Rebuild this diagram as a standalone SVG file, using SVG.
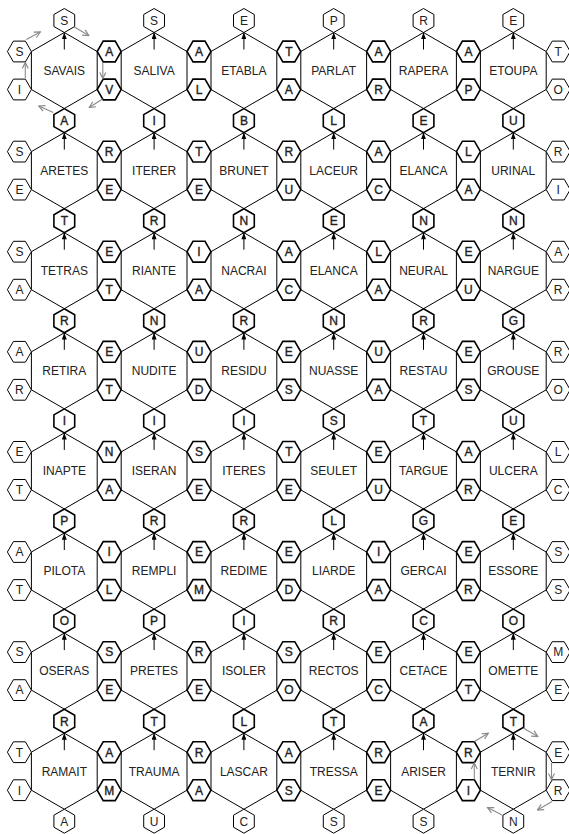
<svg xmlns="http://www.w3.org/2000/svg" xmlns:xlink="http://www.w3.org/1999/xlink" width="569" height="834" viewBox="0 0 569 834">
<style>
.bh{fill:none;stroke:#000;stroke-width:1}
.so{fill:#fff;stroke:#000;stroke-width:1}
.si{fill:#fff;stroke:#000;stroke-width:1.6}
text{font-family:"Liberation Sans",Arial,sans-serif;font-size:12px;fill:#222;text-anchor:middle}
.ti{stroke:#222;stroke-width:0.35}
.ar{stroke:#000;stroke-width:1;fill:none;marker-end:url(#ah)}
.ga{stroke:#8a8a8a;stroke-width:1.1;fill:none;marker-end:url(#gh)}
</style>
<defs>
<polygon id="B" class="bh" points="0,-38 32.9,-19 32.9,19 0,38 -32.9,19 -32.9,-19"/>
<polygon id="V" points="0,-12 10.39,-6 10.39,6 0,12 -10.39,6 -10.39,-6"/>
<polygon id="H" points="-12,0 -6,-10.39 6,-10.39 12,0 6,10.39 -6,10.39"/>
<marker id="ah" viewBox="0 0 8 6" refX="8" refY="3" markerWidth="7" markerHeight="5" markerUnits="userSpaceOnUse" orient="auto"><path d="M0,0 L8,3 L0,6 z" fill="#000"/></marker>
<marker id="gh" viewBox="0 0 8 8" refX="7" refY="4" markerWidth="8" markerHeight="8" markerUnits="userSpaceOnUse" orient="auto"><path d="M1,1 L7,4 L1,7" fill="none" stroke="#8a8a8a" stroke-width="1.2"/></marker>
</defs>

<g id="big">
<g id="h-r0c0"><use href="#B" x="64.3" y="70.5"/><text x="64.3" y="74.8">SAVAIS</text></g>
<g id="h-r0c1"><use href="#B" x="154.1" y="70.5"/><text x="154.1" y="74.8">SALIVA</text></g>
<g id="h-r0c2"><use href="#B" x="243.9" y="70.5"/><text x="243.9" y="74.8">ETABLA</text></g>
<g id="h-r0c3"><use href="#B" x="333.7" y="70.5"/><text x="333.7" y="74.8">PARLAT</text></g>
<g id="h-r0c4"><use href="#B" x="423.5" y="70.5"/><text x="423.5" y="74.8">RAPERA</text></g>
<g id="h-r0c5"><use href="#B" x="513.3" y="70.5"/><text x="513.3" y="74.8">ETOUPA</text></g>

<g id="h-r1c0"><use href="#B" x="64.3" y="170.6"/><text x="64.3" y="174.9">ARETES</text></g>
<g id="h-r1c1"><use href="#B" x="154.1" y="170.6"/><text x="154.1" y="174.9">ITERER</text></g>
<g id="h-r1c2"><use href="#B" x="243.9" y="170.6"/><text x="243.9" y="174.9">BRUNET</text></g>
<g id="h-r1c3"><use href="#B" x="333.7" y="170.6"/><text x="333.7" y="174.9">LACEUR</text></g>
<g id="h-r1c4"><use href="#B" x="423.5" y="170.6"/><text x="423.5" y="174.9">ELANCA</text></g>
<g id="h-r1c5"><use href="#B" x="513.3" y="170.6"/><text x="513.3" y="174.9">URINAL</text></g>

<g id="h-r2c0"><use href="#B" x="64.3" y="270.7"/><text x="64.3" y="275">TETRAS</text></g>
<g id="h-r2c1"><use href="#B" x="154.1" y="270.7"/><text x="154.1" y="275">RIANTE</text></g>
<g id="h-r2c2"><use href="#B" x="243.9" y="270.7"/><text x="243.9" y="275">NACRAI</text></g>
<g id="h-r2c3"><use href="#B" x="333.7" y="270.7"/><text x="333.7" y="275">ELANCA</text></g>
<g id="h-r2c4"><use href="#B" x="423.5" y="270.7"/><text x="423.5" y="275">NEURAL</text></g>
<g id="h-r2c5"><use href="#B" x="513.3" y="270.7"/><text x="513.3" y="275">NARGUE</text></g>

<g id="h-r3c0"><use href="#B" x="64.3" y="370.8"/><text x="64.3" y="375.1">RETIRA</text></g>
<g id="h-r3c1"><use href="#B" x="154.1" y="370.8"/><text x="154.1" y="375.1">NUDITE</text></g>
<g id="h-r3c2"><use href="#B" x="243.9" y="370.8"/><text x="243.9" y="375.1">RESIDU</text></g>
<g id="h-r3c3"><use href="#B" x="333.7" y="370.8"/><text x="333.7" y="375.1">NUASSE</text></g>
<g id="h-r3c4"><use href="#B" x="423.5" y="370.8"/><text x="423.5" y="375.1">RESTAU</text></g>
<g id="h-r3c5"><use href="#B" x="513.3" y="370.8"/><text x="513.3" y="375.1">GROUSE</text></g>

<g id="h-r4c0"><use href="#B" x="64.3" y="470.9"/><text x="64.3" y="475.2">INAPTE</text></g>
<g id="h-r4c1"><use href="#B" x="154.1" y="470.9"/><text x="154.1" y="475.2">ISERAN</text></g>
<g id="h-r4c2"><use href="#B" x="243.9" y="470.9"/><text x="243.9" y="475.2">ITERES</text></g>
<g id="h-r4c3"><use href="#B" x="333.7" y="470.9"/><text x="333.7" y="475.2">SEULET</text></g>
<g id="h-r4c4"><use href="#B" x="423.5" y="470.9"/><text x="423.5" y="475.2">TARGUE</text></g>
<g id="h-r4c5"><use href="#B" x="513.3" y="470.9"/><text x="513.3" y="475.2">ULCERA</text></g>

<g id="h-r5c0"><use href="#B" x="64.3" y="571"/><text x="64.3" y="575.3">PILOTA</text></g>
<g id="h-r5c1"><use href="#B" x="154.1" y="571"/><text x="154.1" y="575.3">REMPLI</text></g>
<g id="h-r5c2"><use href="#B" x="243.9" y="571"/><text x="243.9" y="575.3">REDIME</text></g>
<g id="h-r5c3"><use href="#B" x="333.7" y="571"/><text x="333.7" y="575.3">LIARDE</text></g>
<g id="h-r5c4"><use href="#B" x="423.5" y="571"/><text x="423.5" y="575.3">GERCAI</text></g>
<g id="h-r5c5"><use href="#B" x="513.3" y="571"/><text x="513.3" y="575.3">ESSORE</text></g>

<g id="h-r6c0"><use href="#B" x="64.3" y="671.1"/><text x="64.3" y="675.4">OSERAS</text></g>
<g id="h-r6c1"><use href="#B" x="154.1" y="671.1"/><text x="154.1" y="675.4">PRETES</text></g>
<g id="h-r6c2"><use href="#B" x="243.9" y="671.1"/><text x="243.9" y="675.4">ISOLER</text></g>
<g id="h-r6c3"><use href="#B" x="333.7" y="671.1"/><text x="333.7" y="675.4">RECTOS</text></g>
<g id="h-r6c4"><use href="#B" x="423.5" y="671.1"/><text x="423.5" y="675.4">CETACE</text></g>
<g id="h-r6c5"><use href="#B" x="513.3" y="671.1"/><text x="513.3" y="675.4">OMETTE</text></g>

<g id="h-r7c0"><use href="#B" x="64.3" y="771.2"/><text x="64.3" y="775.5">RAMAIT</text></g>
<g id="h-r7c1"><use href="#B" x="154.1" y="771.2"/><text x="154.1" y="775.5">TRAUMA</text></g>
<g id="h-r7c2"><use href="#B" x="243.9" y="771.2"/><text x="243.9" y="775.5">LASCAR</text></g>
<g id="h-r7c3"><use href="#B" x="333.7" y="771.2"/><text x="333.7" y="775.5">TRESSA</text></g>
<g id="h-r7c4"><use href="#B" x="423.5" y="771.2"/><text x="423.5" y="775.5">ARISER</text></g>
<g id="h-r7c5"><use href="#B" x="513.3" y="771.2"/><text x="513.3" y="775.5">TERNIR</text></g>
</g>

<g id="vertical-letters">
<g id="v0c0"><use href="#V" class="so" x="64.3" y="20.5"/><text x="64.3" y="24.8">S</text></g>
<g id="v0c1"><use href="#V" class="so" x="154.1" y="20.5"/><text x="154.1" y="24.8">S</text></g>
<g id="v0c2"><use href="#V" class="so" x="243.9" y="20.5"/><text x="243.9" y="24.8">E</text></g>
<g id="v0c3"><use href="#V" class="so" x="333.7" y="20.5"/><text x="333.7" y="24.8">P</text></g>
<g id="v0c4"><use href="#V" class="so" x="423.5" y="20.5"/><text x="423.5" y="24.8">R</text></g>
<g id="v0c5"><use href="#V" class="so" x="513.3" y="20.5"/><text x="513.3" y="24.8">E</text></g>

<g id="v1c0"><use href="#V" class="si" x="64.3" y="120.6"/><text class="ti" x="64.3" y="124.9">A</text></g>
<g id="v1c1"><use href="#V" class="si" x="154.1" y="120.6"/><text class="ti" x="154.1" y="124.9">I</text></g>
<g id="v1c2"><use href="#V" class="si" x="243.9" y="120.6"/><text class="ti" x="243.9" y="124.9">B</text></g>
<g id="v1c3"><use href="#V" class="si" x="333.7" y="120.6"/><text class="ti" x="333.7" y="124.9">L</text></g>
<g id="v1c4"><use href="#V" class="si" x="423.5" y="120.6"/><text class="ti" x="423.5" y="124.9">E</text></g>
<g id="v1c5"><use href="#V" class="si" x="513.3" y="120.6"/><text class="ti" x="513.3" y="124.9">U</text></g>

<g id="v2c0"><use href="#V" class="si" x="64.3" y="220.7"/><text class="ti" x="64.3" y="225">T</text></g>
<g id="v2c1"><use href="#V" class="si" x="154.1" y="220.7"/><text class="ti" x="154.1" y="225">R</text></g>
<g id="v2c2"><use href="#V" class="si" x="243.9" y="220.7"/><text class="ti" x="243.9" y="225">N</text></g>
<g id="v2c3"><use href="#V" class="si" x="333.7" y="220.7"/><text class="ti" x="333.7" y="225">E</text></g>
<g id="v2c4"><use href="#V" class="si" x="423.5" y="220.7"/><text class="ti" x="423.5" y="225">N</text></g>
<g id="v2c5"><use href="#V" class="si" x="513.3" y="220.7"/><text class="ti" x="513.3" y="225">N</text></g>

<g id="v3c0"><use href="#V" class="si" x="64.3" y="320.8"/><text class="ti" x="64.3" y="325.1">R</text></g>
<g id="v3c1"><use href="#V" class="si" x="154.1" y="320.8"/><text class="ti" x="154.1" y="325.1">N</text></g>
<g id="v3c2"><use href="#V" class="si" x="243.9" y="320.8"/><text class="ti" x="243.9" y="325.1">R</text></g>
<g id="v3c3"><use href="#V" class="si" x="333.7" y="320.8"/><text class="ti" x="333.7" y="325.1">N</text></g>
<g id="v3c4"><use href="#V" class="si" x="423.5" y="320.8"/><text class="ti" x="423.5" y="325.1">R</text></g>
<g id="v3c5"><use href="#V" class="si" x="513.3" y="320.8"/><text class="ti" x="513.3" y="325.1">G</text></g>

<g id="v4c0"><use href="#V" class="si" x="64.3" y="420.9"/><text class="ti" x="64.3" y="425.2">I</text></g>
<g id="v4c1"><use href="#V" class="si" x="154.1" y="420.9"/><text class="ti" x="154.1" y="425.2">I</text></g>
<g id="v4c2"><use href="#V" class="si" x="243.9" y="420.9"/><text class="ti" x="243.9" y="425.2">I</text></g>
<g id="v4c3"><use href="#V" class="si" x="333.7" y="420.9"/><text class="ti" x="333.7" y="425.2">S</text></g>
<g id="v4c4"><use href="#V" class="si" x="423.5" y="420.9"/><text class="ti" x="423.5" y="425.2">T</text></g>
<g id="v4c5"><use href="#V" class="si" x="513.3" y="420.9"/><text class="ti" x="513.3" y="425.2">U</text></g>

<g id="v5c0"><use href="#V" class="si" x="64.3" y="521"/><text class="ti" x="64.3" y="525.3">P</text></g>
<g id="v5c1"><use href="#V" class="si" x="154.1" y="521"/><text class="ti" x="154.1" y="525.3">R</text></g>
<g id="v5c2"><use href="#V" class="si" x="243.9" y="521"/><text class="ti" x="243.9" y="525.3">R</text></g>
<g id="v5c3"><use href="#V" class="si" x="333.7" y="521"/><text class="ti" x="333.7" y="525.3">L</text></g>
<g id="v5c4"><use href="#V" class="si" x="423.5" y="521"/><text class="ti" x="423.5" y="525.3">G</text></g>
<g id="v5c5"><use href="#V" class="si" x="513.3" y="521"/><text class="ti" x="513.3" y="525.3">E</text></g>

<g id="v6c0"><use href="#V" class="si" x="64.3" y="621.1"/><text class="ti" x="64.3" y="625.4">O</text></g>
<g id="v6c1"><use href="#V" class="si" x="154.1" y="621.1"/><text class="ti" x="154.1" y="625.4">P</text></g>
<g id="v6c2"><use href="#V" class="si" x="243.9" y="621.1"/><text class="ti" x="243.9" y="625.4">I</text></g>
<g id="v6c3"><use href="#V" class="si" x="333.7" y="621.1"/><text class="ti" x="333.7" y="625.4">R</text></g>
<g id="v6c4"><use href="#V" class="si" x="423.5" y="621.1"/><text class="ti" x="423.5" y="625.4">C</text></g>
<g id="v6c5"><use href="#V" class="si" x="513.3" y="621.1"/><text class="ti" x="513.3" y="625.4">O</text></g>

<g id="v7c0"><use href="#V" class="si" x="64.3" y="721.2"/><text class="ti" x="64.3" y="725.5">R</text></g>
<g id="v7c1"><use href="#V" class="si" x="154.1" y="721.2"/><text class="ti" x="154.1" y="725.5">T</text></g>
<g id="v7c2"><use href="#V" class="si" x="243.9" y="721.2"/><text class="ti" x="243.9" y="725.5">L</text></g>
<g id="v7c3"><use href="#V" class="si" x="333.7" y="721.2"/><text class="ti" x="333.7" y="725.5">T</text></g>
<g id="v7c4"><use href="#V" class="si" x="423.5" y="721.2"/><text class="ti" x="423.5" y="725.5">A</text></g>
<g id="v7c5"><use href="#V" class="si" x="513.3" y="721.2"/><text class="ti" x="513.3" y="725.5">T</text></g>

<g id="v8c0"><use href="#V" class="so" x="64.3" y="821.2"/><text x="64.3" y="825.5">A</text></g>
<g id="v8c1"><use href="#V" class="so" x="154.1" y="821.2"/><text x="154.1" y="825.5">U</text></g>
<g id="v8c2"><use href="#V" class="so" x="243.9" y="821.2"/><text x="243.9" y="825.5">C</text></g>
<g id="v8c3"><use href="#V" class="so" x="333.7" y="821.2"/><text x="333.7" y="825.5">S</text></g>
<g id="v8c4"><use href="#V" class="so" x="423.5" y="821.2"/><text x="423.5" y="825.5">S</text></g>
<g id="v8c5"><use href="#V" class="so" x="513.3" y="821.2"/><text x="513.3" y="825.5">N</text></g>
</g>

<g id="side-letters">
<g id="s0b0u"><use href="#H" class="so" x="19.4" y="51.5"/><text x="19.4" y="55.8">S</text></g>
<g id="s0b0l"><use href="#H" class="so" x="19.4" y="89.5"/><text x="19.4" y="93.8">I</text></g>
<g id="s0b1u"><use href="#H" class="si" x="109.2" y="51.5"/><text class="ti" x="109.2" y="55.8">A</text></g>
<g id="s0b1l"><use href="#H" class="si" x="109.2" y="89.5"/><text class="ti" x="109.2" y="93.8">V</text></g>
<g id="s0b2u"><use href="#H" class="si" x="199" y="51.5"/><text class="ti" x="199" y="55.8">A</text></g>
<g id="s0b2l"><use href="#H" class="si" x="199" y="89.5"/><text class="ti" x="199" y="93.8">L</text></g>
<g id="s0b3u"><use href="#H" class="si" x="288.8" y="51.5"/><text class="ti" x="288.8" y="55.8">T</text></g>
<g id="s0b3l"><use href="#H" class="si" x="288.8" y="89.5"/><text class="ti" x="288.8" y="93.8">A</text></g>
<g id="s0b4u"><use href="#H" class="si" x="378.6" y="51.5"/><text class="ti" x="378.6" y="55.8">A</text></g>
<g id="s0b4l"><use href="#H" class="si" x="378.6" y="89.5"/><text class="ti" x="378.6" y="93.8">R</text></g>
<g id="s0b5u"><use href="#H" class="si" x="468.4" y="51.5"/><text class="ti" x="468.4" y="55.8">A</text></g>
<g id="s0b5l"><use href="#H" class="si" x="468.4" y="89.5"/><text class="ti" x="468.4" y="93.8">P</text></g>
<g id="s0b6u"><use href="#H" class="so" x="558.2" y="51.5"/><text x="558.2" y="55.8">T</text></g>
<g id="s0b6l"><use href="#H" class="so" x="558.2" y="89.5"/><text x="558.2" y="93.8">O</text></g>

<g id="s1b0u"><use href="#H" class="so" x="19.4" y="151.6"/><text x="19.4" y="155.9">S</text></g>
<g id="s1b0l"><use href="#H" class="so" x="19.4" y="189.6"/><text x="19.4" y="193.9">E</text></g>
<g id="s1b1u"><use href="#H" class="si" x="109.2" y="151.6"/><text class="ti" x="109.2" y="155.9">R</text></g>
<g id="s1b1l"><use href="#H" class="si" x="109.2" y="189.6"/><text class="ti" x="109.2" y="193.9">E</text></g>
<g id="s1b2u"><use href="#H" class="si" x="199" y="151.6"/><text class="ti" x="199" y="155.9">T</text></g>
<g id="s1b2l"><use href="#H" class="si" x="199" y="189.6"/><text class="ti" x="199" y="193.9">E</text></g>
<g id="s1b3u"><use href="#H" class="si" x="288.8" y="151.6"/><text class="ti" x="288.8" y="155.9">R</text></g>
<g id="s1b3l"><use href="#H" class="si" x="288.8" y="189.6"/><text class="ti" x="288.8" y="193.9">U</text></g>
<g id="s1b4u"><use href="#H" class="si" x="378.6" y="151.6"/><text class="ti" x="378.6" y="155.9">A</text></g>
<g id="s1b4l"><use href="#H" class="si" x="378.6" y="189.6"/><text class="ti" x="378.6" y="193.9">C</text></g>
<g id="s1b5u"><use href="#H" class="si" x="468.4" y="151.6"/><text class="ti" x="468.4" y="155.9">L</text></g>
<g id="s1b5l"><use href="#H" class="si" x="468.4" y="189.6"/><text class="ti" x="468.4" y="193.9">A</text></g>
<g id="s1b6u"><use href="#H" class="so" x="558.2" y="151.6"/><text x="558.2" y="155.9">R</text></g>
<g id="s1b6l"><use href="#H" class="so" x="558.2" y="189.6"/><text x="558.2" y="193.9">I</text></g>

<g id="s2b0u"><use href="#H" class="so" x="19.4" y="251.7"/><text x="19.4" y="256">S</text></g>
<g id="s2b0l"><use href="#H" class="so" x="19.4" y="289.7"/><text x="19.4" y="294">A</text></g>
<g id="s2b1u"><use href="#H" class="si" x="109.2" y="251.7"/><text class="ti" x="109.2" y="256">E</text></g>
<g id="s2b1l"><use href="#H" class="si" x="109.2" y="289.7"/><text class="ti" x="109.2" y="294">T</text></g>
<g id="s2b2u"><use href="#H" class="si" x="199" y="251.7"/><text class="ti" x="199" y="256">I</text></g>
<g id="s2b2l"><use href="#H" class="si" x="199" y="289.7"/><text class="ti" x="199" y="294">A</text></g>
<g id="s2b3u"><use href="#H" class="si" x="288.8" y="251.7"/><text class="ti" x="288.8" y="256">A</text></g>
<g id="s2b3l"><use href="#H" class="si" x="288.8" y="289.7"/><text class="ti" x="288.8" y="294">C</text></g>
<g id="s2b4u"><use href="#H" class="si" x="378.6" y="251.7"/><text class="ti" x="378.6" y="256">L</text></g>
<g id="s2b4l"><use href="#H" class="si" x="378.6" y="289.7"/><text class="ti" x="378.6" y="294">A</text></g>
<g id="s2b5u"><use href="#H" class="si" x="468.4" y="251.7"/><text class="ti" x="468.4" y="256">E</text></g>
<g id="s2b5l"><use href="#H" class="si" x="468.4" y="289.7"/><text class="ti" x="468.4" y="294">U</text></g>
<g id="s2b6u"><use href="#H" class="so" x="558.2" y="251.7"/><text x="558.2" y="256">A</text></g>
<g id="s2b6l"><use href="#H" class="so" x="558.2" y="289.7"/><text x="558.2" y="294">R</text></g>

<g id="s3b0u"><use href="#H" class="so" x="19.4" y="351.8"/><text x="19.4" y="356.1">A</text></g>
<g id="s3b0l"><use href="#H" class="so" x="19.4" y="389.8"/><text x="19.4" y="394.1">R</text></g>
<g id="s3b1u"><use href="#H" class="si" x="109.2" y="351.8"/><text class="ti" x="109.2" y="356.1">E</text></g>
<g id="s3b1l"><use href="#H" class="si" x="109.2" y="389.8"/><text class="ti" x="109.2" y="394.1">T</text></g>
<g id="s3b2u"><use href="#H" class="si" x="199" y="351.8"/><text class="ti" x="199" y="356.1">U</text></g>
<g id="s3b2l"><use href="#H" class="si" x="199" y="389.8"/><text class="ti" x="199" y="394.1">D</text></g>
<g id="s3b3u"><use href="#H" class="si" x="288.8" y="351.8"/><text class="ti" x="288.8" y="356.1">E</text></g>
<g id="s3b3l"><use href="#H" class="si" x="288.8" y="389.8"/><text class="ti" x="288.8" y="394.1">S</text></g>
<g id="s3b4u"><use href="#H" class="si" x="378.6" y="351.8"/><text class="ti" x="378.6" y="356.1">U</text></g>
<g id="s3b4l"><use href="#H" class="si" x="378.6" y="389.8"/><text class="ti" x="378.6" y="394.1">A</text></g>
<g id="s3b5u"><use href="#H" class="si" x="468.4" y="351.8"/><text class="ti" x="468.4" y="356.1">E</text></g>
<g id="s3b5l"><use href="#H" class="si" x="468.4" y="389.8"/><text class="ti" x="468.4" y="394.1">S</text></g>
<g id="s3b6u"><use href="#H" class="so" x="558.2" y="351.8"/><text x="558.2" y="356.1">R</text></g>
<g id="s3b6l"><use href="#H" class="so" x="558.2" y="389.8"/><text x="558.2" y="394.1">O</text></g>

<g id="s4b0u"><use href="#H" class="so" x="19.4" y="451.9"/><text x="19.4" y="456.2">E</text></g>
<g id="s4b0l"><use href="#H" class="so" x="19.4" y="489.9"/><text x="19.4" y="494.2">T</text></g>
<g id="s4b1u"><use href="#H" class="si" x="109.2" y="451.9"/><text class="ti" x="109.2" y="456.2">N</text></g>
<g id="s4b1l"><use href="#H" class="si" x="109.2" y="489.9"/><text class="ti" x="109.2" y="494.2">A</text></g>
<g id="s4b2u"><use href="#H" class="si" x="199" y="451.9"/><text class="ti" x="199" y="456.2">S</text></g>
<g id="s4b2l"><use href="#H" class="si" x="199" y="489.9"/><text class="ti" x="199" y="494.2">E</text></g>
<g id="s4b3u"><use href="#H" class="si" x="288.8" y="451.9"/><text class="ti" x="288.8" y="456.2">T</text></g>
<g id="s4b3l"><use href="#H" class="si" x="288.8" y="489.9"/><text class="ti" x="288.8" y="494.2">E</text></g>
<g id="s4b4u"><use href="#H" class="si" x="378.6" y="451.9"/><text class="ti" x="378.6" y="456.2">E</text></g>
<g id="s4b4l"><use href="#H" class="si" x="378.6" y="489.9"/><text class="ti" x="378.6" y="494.2">U</text></g>
<g id="s4b5u"><use href="#H" class="si" x="468.4" y="451.9"/><text class="ti" x="468.4" y="456.2">A</text></g>
<g id="s4b5l"><use href="#H" class="si" x="468.4" y="489.9"/><text class="ti" x="468.4" y="494.2">R</text></g>
<g id="s4b6u"><use href="#H" class="so" x="558.2" y="451.9"/><text x="558.2" y="456.2">L</text></g>
<g id="s4b6l"><use href="#H" class="so" x="558.2" y="489.9"/><text x="558.2" y="494.2">C</text></g>

<g id="s5b0u"><use href="#H" class="so" x="19.4" y="552"/><text x="19.4" y="556.3">A</text></g>
<g id="s5b0l"><use href="#H" class="so" x="19.4" y="590"/><text x="19.4" y="594.3">T</text></g>
<g id="s5b1u"><use href="#H" class="si" x="109.2" y="552"/><text class="ti" x="109.2" y="556.3">I</text></g>
<g id="s5b1l"><use href="#H" class="si" x="109.2" y="590"/><text class="ti" x="109.2" y="594.3">L</text></g>
<g id="s5b2u"><use href="#H" class="si" x="199" y="552"/><text class="ti" x="199" y="556.3">E</text></g>
<g id="s5b2l"><use href="#H" class="si" x="199" y="590"/><text class="ti" x="199" y="594.3">M</text></g>
<g id="s5b3u"><use href="#H" class="si" x="288.8" y="552"/><text class="ti" x="288.8" y="556.3">E</text></g>
<g id="s5b3l"><use href="#H" class="si" x="288.8" y="590"/><text class="ti" x="288.8" y="594.3">D</text></g>
<g id="s5b4u"><use href="#H" class="si" x="378.6" y="552"/><text class="ti" x="378.6" y="556.3">I</text></g>
<g id="s5b4l"><use href="#H" class="si" x="378.6" y="590"/><text class="ti" x="378.6" y="594.3">A</text></g>
<g id="s5b5u"><use href="#H" class="si" x="468.4" y="552"/><text class="ti" x="468.4" y="556.3">E</text></g>
<g id="s5b5l"><use href="#H" class="si" x="468.4" y="590"/><text class="ti" x="468.4" y="594.3">R</text></g>
<g id="s5b6u"><use href="#H" class="so" x="558.2" y="552"/><text x="558.2" y="556.3">S</text></g>
<g id="s5b6l"><use href="#H" class="so" x="558.2" y="590"/><text x="558.2" y="594.3">S</text></g>

<g id="s6b0u"><use href="#H" class="so" x="19.4" y="652.1"/><text x="19.4" y="656.4">S</text></g>
<g id="s6b0l"><use href="#H" class="so" x="19.4" y="690.1"/><text x="19.4" y="694.4">A</text></g>
<g id="s6b1u"><use href="#H" class="si" x="109.2" y="652.1"/><text class="ti" x="109.2" y="656.4">S</text></g>
<g id="s6b1l"><use href="#H" class="si" x="109.2" y="690.1"/><text class="ti" x="109.2" y="694.4">E</text></g>
<g id="s6b2u"><use href="#H" class="si" x="199" y="652.1"/><text class="ti" x="199" y="656.4">R</text></g>
<g id="s6b2l"><use href="#H" class="si" x="199" y="690.1"/><text class="ti" x="199" y="694.4">E</text></g>
<g id="s6b3u"><use href="#H" class="si" x="288.8" y="652.1"/><text class="ti" x="288.8" y="656.4">S</text></g>
<g id="s6b3l"><use href="#H" class="si" x="288.8" y="690.1"/><text class="ti" x="288.8" y="694.4">O</text></g>
<g id="s6b4u"><use href="#H" class="si" x="378.6" y="652.1"/><text class="ti" x="378.6" y="656.4">E</text></g>
<g id="s6b4l"><use href="#H" class="si" x="378.6" y="690.1"/><text class="ti" x="378.6" y="694.4">C</text></g>
<g id="s6b5u"><use href="#H" class="si" x="468.4" y="652.1"/><text class="ti" x="468.4" y="656.4">E</text></g>
<g id="s6b5l"><use href="#H" class="si" x="468.4" y="690.1"/><text class="ti" x="468.4" y="694.4">T</text></g>
<g id="s6b6u"><use href="#H" class="so" x="558.2" y="652.1"/><text x="558.2" y="656.4">M</text></g>
<g id="s6b6l"><use href="#H" class="so" x="558.2" y="690.1"/><text x="558.2" y="694.4">E</text></g>

<g id="s7b0u"><use href="#H" class="so" x="19.4" y="752.2"/><text x="19.4" y="756.5">T</text></g>
<g id="s7b0l"><use href="#H" class="so" x="19.4" y="790.2"/><text x="19.4" y="794.5">I</text></g>
<g id="s7b1u"><use href="#H" class="si" x="109.2" y="752.2"/><text class="ti" x="109.2" y="756.5">A</text></g>
<g id="s7b1l"><use href="#H" class="si" x="109.2" y="790.2"/><text class="ti" x="109.2" y="794.5">M</text></g>
<g id="s7b2u"><use href="#H" class="si" x="199" y="752.2"/><text class="ti" x="199" y="756.5">R</text></g>
<g id="s7b2l"><use href="#H" class="si" x="199" y="790.2"/><text class="ti" x="199" y="794.5">A</text></g>
<g id="s7b3u"><use href="#H" class="si" x="288.8" y="752.2"/><text class="ti" x="288.8" y="756.5">A</text></g>
<g id="s7b3l"><use href="#H" class="si" x="288.8" y="790.2"/><text class="ti" x="288.8" y="794.5">S</text></g>
<g id="s7b4u"><use href="#H" class="si" x="378.6" y="752.2"/><text class="ti" x="378.6" y="756.5">R</text></g>
<g id="s7b4l"><use href="#H" class="si" x="378.6" y="790.2"/><text class="ti" x="378.6" y="794.5">E</text></g>
<g id="s7b5u"><use href="#H" class="si" x="468.4" y="752.2"/><text class="ti" x="468.4" y="756.5">R</text></g>
<g id="s7b5l"><use href="#H" class="si" x="468.4" y="790.2"/><text class="ti" x="468.4" y="794.5">I</text></g>
<g id="s7b6u"><use href="#H" class="so" x="558.2" y="752.2"/><text x="558.2" y="756.5">E</text></g>
<g id="s7b6l"><use href="#H" class="so" x="558.2" y="790.2"/><text x="558.2" y="794.5">R</text></g>
</g>

<g id="connectors">
<line class="ar" x1="64.3" y1="49.5" x2="64.3" y2="32.5"/>
<line class="ar" x1="154.1" y1="49.5" x2="154.1" y2="32.5"/>
<line class="ar" x1="243.9" y1="49.5" x2="243.9" y2="32.5"/>
<line class="ar" x1="333.7" y1="49.5" x2="333.7" y2="32.5"/>
<line class="ar" x1="423.5" y1="49.5" x2="423.5" y2="32.5"/>
<line class="ar" x1="513.3" y1="49.5" x2="513.3" y2="32.5"/>
<line class="ar" x1="64.3" y1="149.6" x2="64.3" y2="132.6"/>
<line class="ar" x1="154.1" y1="149.6" x2="154.1" y2="132.6"/>
<line class="ar" x1="243.9" y1="149.6" x2="243.9" y2="132.6"/>
<line class="ar" x1="333.7" y1="149.6" x2="333.7" y2="132.6"/>
<line class="ar" x1="423.5" y1="149.6" x2="423.5" y2="132.6"/>
<line class="ar" x1="513.3" y1="149.6" x2="513.3" y2="132.6"/>
<line class="ar" x1="64.3" y1="249.7" x2="64.3" y2="232.7"/>
<line class="ar" x1="154.1" y1="249.7" x2="154.1" y2="232.7"/>
<line class="ar" x1="243.9" y1="249.7" x2="243.9" y2="232.7"/>
<line class="ar" x1="333.7" y1="249.7" x2="333.7" y2="232.7"/>
<line class="ar" x1="423.5" y1="249.7" x2="423.5" y2="232.7"/>
<line class="ar" x1="513.3" y1="249.7" x2="513.3" y2="232.7"/>
<line class="ar" x1="64.3" y1="349.8" x2="64.3" y2="332.8"/>
<line class="ar" x1="154.1" y1="349.8" x2="154.1" y2="332.8"/>
<line class="ar" x1="243.9" y1="349.8" x2="243.9" y2="332.8"/>
<line class="ar" x1="333.7" y1="349.8" x2="333.7" y2="332.8"/>
<line class="ar" x1="423.5" y1="349.8" x2="423.5" y2="332.8"/>
<line class="ar" x1="513.3" y1="349.8" x2="513.3" y2="332.8"/>
<line class="ar" x1="64.3" y1="449.9" x2="64.3" y2="432.9"/>
<line class="ar" x1="154.1" y1="449.9" x2="154.1" y2="432.9"/>
<line class="ar" x1="243.9" y1="449.9" x2="243.9" y2="432.9"/>
<line class="ar" x1="333.7" y1="449.9" x2="333.7" y2="432.9"/>
<line class="ar" x1="423.5" y1="449.9" x2="423.5" y2="432.9"/>
<line class="ar" x1="513.3" y1="449.9" x2="513.3" y2="432.9"/>
<line class="ar" x1="64.3" y1="550" x2="64.3" y2="533"/>
<line class="ar" x1="154.1" y1="550" x2="154.1" y2="533"/>
<line class="ar" x1="243.9" y1="550" x2="243.9" y2="533"/>
<line class="ar" x1="333.7" y1="550" x2="333.7" y2="533"/>
<line class="ar" x1="423.5" y1="550" x2="423.5" y2="533"/>
<line class="ar" x1="513.3" y1="550" x2="513.3" y2="533"/>
<line class="ar" x1="64.3" y1="650.1" x2="64.3" y2="633.1"/>
<line class="ar" x1="154.1" y1="650.1" x2="154.1" y2="633.1"/>
<line class="ar" x1="243.9" y1="650.1" x2="243.9" y2="633.1"/>
<line class="ar" x1="333.7" y1="650.1" x2="333.7" y2="633.1"/>
<line class="ar" x1="423.5" y1="650.1" x2="423.5" y2="633.1"/>
<line class="ar" x1="513.3" y1="650.1" x2="513.3" y2="633.1"/>
<line class="ar" x1="64.3" y1="750.2" x2="64.3" y2="733.2"/>
<line class="ar" x1="154.1" y1="750.2" x2="154.1" y2="733.2"/>
<line class="ar" x1="243.9" y1="750.2" x2="243.9" y2="733.2"/>
<line class="ar" x1="333.7" y1="750.2" x2="333.7" y2="733.2"/>
<line class="ar" x1="423.5" y1="750.2" x2="423.5" y2="733.2"/>
<line class="ar" x1="513.3" y1="750.2" x2="513.3" y2="733.2"/>

<g id="path-SAVAIS">
<line class="ga" x1="26.3" y1="39.5" x2="40.3" y2="32"/>
<line class="ga" x1="74.3" y1="27" x2="88.8" y2="35.5"/>
<line class="ga" x1="102.8" y1="62.5" x2="102.8" y2="78.5"/>
<line class="ga" x1="102.5" y1="99" x2="89.3" y2="107.5"/>
<line class="ga" x1="53.3" y1="112.5" x2="38.8" y2="106"/>
<line class="ga" x1="25.3" y1="78" x2="25.3" y2="62.5"/>
</g>
<g id="path-TERNIR">
<line class="ga" x1="474.3" y1="741.5" x2="488.3" y2="733.3"/>
<line class="ga" x1="523.3" y1="728" x2="537.8" y2="736.5"/>
<line class="ga" x1="551.5" y1="763" x2="551.5" y2="779.5"/>
<line class="ga" x1="552" y1="801.5" x2="537.5" y2="810"/>
<line class="ga" x1="502" y1="815" x2="487.5" y2="807.5"/>
<line class="ga" x1="474.3" y1="779.5" x2="474.3" y2="763"/>
</g>
</g>
</svg>
